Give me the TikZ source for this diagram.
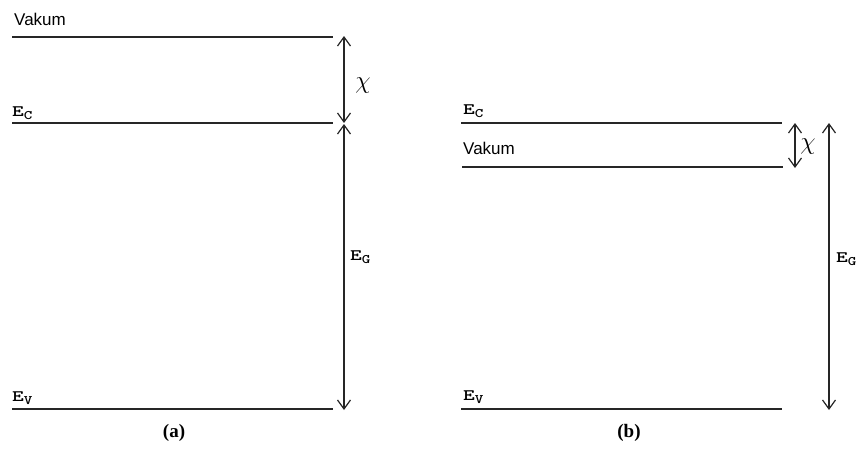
\documentclass[tikz,border=0pt]{standalone}
\usepackage{fontspec}
\setmainfont{Liberation Serif}
\newfontfamily\vakfont{Liberation Sans}
\usetikzlibrary{arrows.meta}
\tikzset{
  level/.style={line width=1.5pt, draw=black!85},
  gap/.style={line width=1.2pt, draw=black!85, {Straight Barb[length=9pt,width=13pt]}-{Straight Barb[length=9pt,width=13pt]}},
  vtxt/.style={font=\vakfont\fontsize{17}{17}\selectfont, inner sep=0pt, anchor=base west},
  etxt/.style={font=\ttfamily\bfseries\fontsize{16}{16}\selectfont, inner sep=0pt, anchor=base west},
  captxt/.style={font=\bfseries\fontsize{19}{19}\selectfont, inner sep=0pt},
  chi/.style={font=\fontsize{26}{26}\selectfont, inner sep=0pt}
}
\newcommand{\Esub}[1]{\scalebox{1.4}[1]{E}{\fontsize{13}{13}\selectfont\raisebox{-3pt}{\scalebox{1.25}[1]{#1}}}}
\begin{document}
\begin{tikzpicture}[x=1pt,y=-1pt]
\useasboundingbox (0,0) rectangle (863,450);
% (a)
\coordinate (av1) at (12,37);  \coordinate (av2) at (333,37);
\coordinate (ac1) at (12,123); \coordinate (ac2) at (333,123);
\coordinate (ae1) at (12,409); \coordinate (ae2) at (333,409);
\draw[level] (av1) -- (av2);
\draw[level] (ac1) -- (ac2);
\draw[level] (ae1) -- (ae2);
\node[vtxt] (avak) at (14,25) {Vakum};
\node[etxt] (aec) at (12,116) {\Esub{C}};
\node[etxt] (aev) at (12,401) {\Esub{V}};
\coordinate (achiT) at (344,36); \coordinate (achiB) at (344,123);
\coordinate (aegT) at (344,124); \coordinate (aegB) at (344,410);
\draw[gap] (achiT) -- (achiB);
\draw[gap] (aegT) -- (aegB);
\node[chi] (achi) at (363,86) {$\chi$};
\node[etxt] (aeg) at (350,260) {\Esub{G}};
\node[captxt] (acap) at (174,433) {(a)};
% (b)
\coordinate (bc1) at (461,123); \coordinate (bc2) at (782,123);
\coordinate (bv1) at (462,167); \coordinate (bv2) at (783,167);
\coordinate (be1) at (461,409); \coordinate (be2) at (782,409);
\draw[level] (bc1) -- (bc2);
\draw[level] (bv1) -- (bv2);
\draw[level] (be1) -- (be2);
\node[etxt] (bec) at (463,114) {\Esub{C}};
\node[vtxt] (bvak) at (463,154) {Vakum};
\node[etxt] (bev) at (463,400) {\Esub{V}};
\coordinate (bchiT) at (795,123); \coordinate (bchiB) at (795,168);
\coordinate (begT) at (829,123); \coordinate (begB) at (829,410);
\draw[gap] (bchiT) -- (bchiB);
\draw[gap] (begT) -- (begB);
\node[chi] (bchi) at (808,147) {$\chi$};
\node[etxt] (beg) at (836,262) {\Esub{G}};
\node[captxt] (bcap) at (629,433) {(b)};
\end{tikzpicture}
\end{document}
